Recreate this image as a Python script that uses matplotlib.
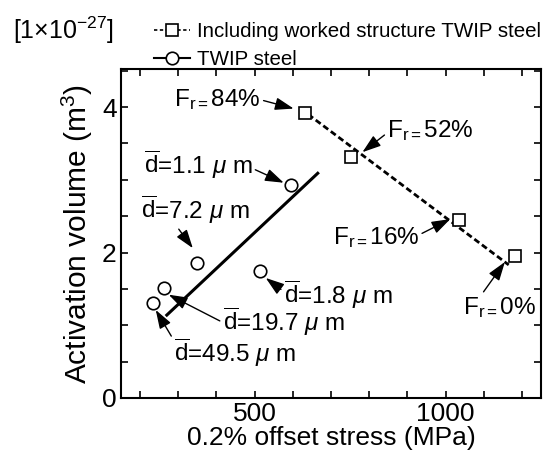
import numpy as np
import matplotlib
matplotlib.use("Agg")
import matplotlib.pyplot as plt

plt.rcParams['font.family'] = ['Liberation Sans', 'DejaVu Sans']
plt.rcParams['mathtext.fontset'] = 'custom'
plt.rcParams['mathtext.rm'] = 'Liberation Sans'
plt.rcParams['mathtext.it'] = 'Liberation Sans:italic'
plt.rcParams['mathtext.bf'] = 'Liberation Sans:bold'

# Data
# worked structure TWIP steel (squares) with dashed fit line
worked_stress = [633, 751, 1036, 1181]
worked_vol = [3.92, 3.32, 2.45, 1.95]
worked_labels = ["84%", "52%", "16%", "0%"]
worked_fit_x = [640, 1165]
worked_fit_y = [3.90, 1.83]

# TWIP steel (circles) with solid fit line
twip_stress = [594, 349, 513, 263, 234]
twip_vol = [2.93, 1.85, 1.74, 1.51, 1.30]
twip_grain = ["1.1", "7.2", "1.8", "19.7", "49.5"]
twip_fit_x = [270, 665]
twip_fit_y = [1.14, 3.09]

FS_AX = 19     # x label / tick labels
FS_YL = 21.5   # y label
FS_ANN = 17.5  # annotations
FS_LEG = 14.8  # legend

fig = plt.figure(figsize=(5.45, 4.59), dpi=100)
ax = fig.add_axes([0.222, 0.133, 0.771, 0.716])

ax.plot(worked_fit_x, worked_fit_y, color='black', lw=2.0, dashes=(2.2, 1.2))
ax.plot(twip_fit_x, twip_fit_y, color='black', lw=2.2)
ax.plot(worked_stress, worked_vol, 's', mfc='white', mec='black', ms=9, mew=1.2)
ax.plot(twip_stress, twip_vol, 'o', mfc='white', mec='black', ms=9, mew=1.2)

# legend handles
h_sq, = ax.plot([], [], color='black', lw=1.2, dashes=(2, 1.5), marker='s',
                mfc='white', mec='black', ms=9, mew=1.2)
h_ci, = ax.plot([], [], color='black', lw=1.5, marker='o',
                mfc='white', mec='black', ms=9, mew=1.2)
fig.legend([h_sq, h_ci], ["Including worked structure TWIP steel", "TWIP steel"],
           loc='upper left', bbox_to_anchor=(154 / 545, 1 - 22 / 459),
           frameon=False, fontsize=FS_LEG, handlelength=1.75, handletextpad=0.35,
           borderpad=0, borderaxespad=0, labelspacing=0.45)

arrow = dict(arrowstyle='-|>,head_length=0.65,head_width=0.22', color='black',
             lw=1.0, shrinkA=0, shrinkB=0)

fr = "F$_\\mathrm{r=}$"
# F_r annotations: (text x, text y, ha, relpos, tip x, tip y)
fr_pos = [
    (516, 4.10, 'right', (1.0, 0.5), 602, 3.98),
    (847, 3.68, 'left', (0.0, 0.4), 782, 3.38),
    (704, 2.21, 'left', (1.0, 0.6), 1012, 2.46),
    (1046, 1.25, 'left', (0.25, 1.0), 1155, 1.87),
]
for lab, (tx, ty, ha, rp, px, py) in zip(worked_labels, fr_pos):
    a = dict(arrow)
    a['relpos'] = rp
    ax.annotate(fr + lab, xy=(px, py), xytext=(tx, ty), ha=ha, va='center',
                fontsize=FS_ANN, arrowprops=a)

d_pos = [
    (210, 3.20, (1.0, 0.4), 576, 2.96),
    (202, 2.58, (0.33, 0.0), 338, 2.06),
    (576, 1.42, (0.0, 0.6), 529, 1.65),
    (416, 1.04, (0.0, 0.5), 275, 1.42),
    (289, 0.62, (0.02, 0.75), 241, 1.21),
]
for g, (tx, ty, rp, px, py) in zip(twip_grain, d_pos):
    a = dict(arrow)
    a['relpos'] = rp
    ax.annotate("$\\overline{\\mathrm{d}}$=" + g + " $\\mu$ m", xy=(px, py),
                xytext=(tx, ty), ha='left', va='center', fontsize=FS_ANN,
                arrowprops=a)

ax.set_xlim(150, 1250)
ax.set_ylim(0, 4.52)
ax.set_xticks([500, 1000])
ax.set_xticks(np.arange(200, 1201, 100), minor=True)
ax.set_yticks([0, 2, 4])
ax.set_yticks(np.arange(0, 4.51, 0.5), minor=True)
ax.tick_params(which='both', direction='in', top=True, right=True,
               length=5, width=1.2, labelsize=FS_AX, pad=3)
for s in ax.spines.values():
    s.set_linewidth(1.5)

ax.set_xlabel("0.2% offset stress (MPa)", fontsize=FS_AX, labelpad=0)
ax.set_ylabel("Activation volume (m$^3$)", fontsize=FS_YL, labelpad=5)

fig.text(13 / 545, 1 - 30 / 459, "[1$\\times$10$^{-27}$]", fontsize=18,
         ha='left', va='center')

fig.savefig("out.png", dpi=100)
